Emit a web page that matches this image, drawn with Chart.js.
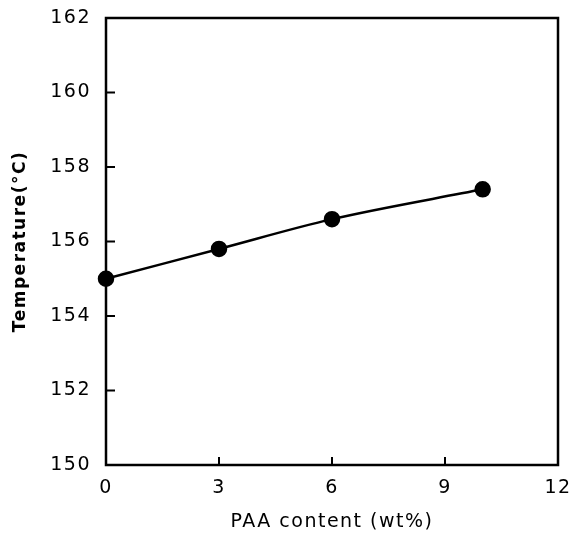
<!DOCTYPE html>
<html lang="en">
<head>
  <meta charset="UTF-8" />
  <title>Temperature vs PAA content</title>
  <script src="https://cdn.jsdelivr.net/npm/chart.js"></script>
  <style>
    html, body { margin: 0; padding: 0; background: #fff; }
    #wrap { width: 574px; height: 533px; }
  </style>
</head>
<body>
  <div id="wrap"><canvas id="myChart"></canvas></div>
<script>
  // dados
  const paaContent = [0, 3, 6, 10];
  const temperatura = [155.0, 155.8, 156.6, 157.4];
  const xTicks = [0, 3, 6, 9, 12];
  const yTicks = [150, 152, 154, 156, 158, 160, 162];

  const fonte = 'DejaVu Sans';

  // texto um pouco mais espaçado, como no original
  const espacamento = {
    id: 'espacamento',
    beforeLayout(chart) { chart.ctx.letterSpacing = '1.5px'; },
    beforeDraw(chart) { chart.ctx.letterSpacing = '1.5px'; }
  };

  // moldura e ticks para dentro
  const moldura = {
    id: 'moldura',
    afterDatasetsDraw(chart) {
      const ctx = chart.ctx;
      const a = chart.chartArea;
      const x = chart.scales.x;
      const y = chart.scales.y;
      ctx.save();
      ctx.strokeStyle = '#000';
      ctx.lineWidth = 2.5;
      ctx.strokeRect(a.left, a.top, a.right - a.left, a.bottom - a.top);
      ctx.lineWidth = 2;
      ctx.beginPath();
      x.ticks.forEach(function (t) {
        const px = x.getPixelForValue(t.value);
        ctx.moveTo(px, a.bottom);
        ctx.lineTo(px, a.bottom - 8);
      });
      y.ticks.forEach(function (t) {
        const py = y.getPixelForValue(t.value);
        ctx.moveTo(a.left, py);
        ctx.lineTo(a.left + 9, py);
      });
      ctx.stroke();
      ctx.restore();
    }
  };

  const dados = {
    datasets: [{
      data: paaContent.map(function (v, i) { return { x: v, y: temperatura[i] }; }),
      borderColor: '#000',
      backgroundColor: '#000',
      borderWidth: 2.5,
      pointRadius: 7,
      pointHoverRadius: 7,
      cubicInterpolationMode: 'monotone',
      clip: false,
      fill: false
    }]
  };

  const config = {
    type: 'line',
    data: dados,
    plugins: [espacamento, moldura],
    options: {
      responsive: true,
      maintainAspectRatio: false,
      animation: false,
      layout: { autoPadding: false, padding: { top: 18, right: 16, left: 0, bottom: 0 } },
      plugins: { legend: { display: false }, tooltip: { enabled: false } },
      scales: {
        x: {
          type: 'linear',
          min: 0,
          max: 12,
          afterBuildTicks: function (s) { s.ticks = xTicks.map(function (v) { return { value: v }; }); },
          afterFit: function (s) { s.height = 68; s.paddingLeft = 0; s.paddingRight = 0; },
          grid: { display: false, drawTicks: false },
          border: { display: false },
          ticks: { color: '#000', padding: 12, font: { family: fonte, size: 19 } },
          title: {
            display: true,
            text: 'PAA content (wt%)',
            color: '#000',
            padding: { top: 0, bottom: 0 },
            font: { family: fonte, size: 19 }
          }
        },
        y: {
          min: 150,
          max: 162,
          afterBuildTicks: function (s) { s.ticks = yTicks.map(function (v) { return { value: v }; }); },
          afterFit: function (s) { s.width = 106; s.paddingTop = 0; s.paddingBottom = 0; },
          grid: { display: false, drawTicks: false },
          border: { display: false },
          ticks: { color: '#000', padding: 15, font: { family: fonte, size: 19 } },
          title: {
            display: true,
            text: 'Temperature(°C)',
            color: '#000',
            padding: { top: 10, bottom: 0 },
            font: { family: fonte, size: 17, weight: 'bold' }
          }
        }
      }
    }
  };

  let myChart = new Chart(document.getElementById('myChart'), config);
</script>
</body>
</html>
